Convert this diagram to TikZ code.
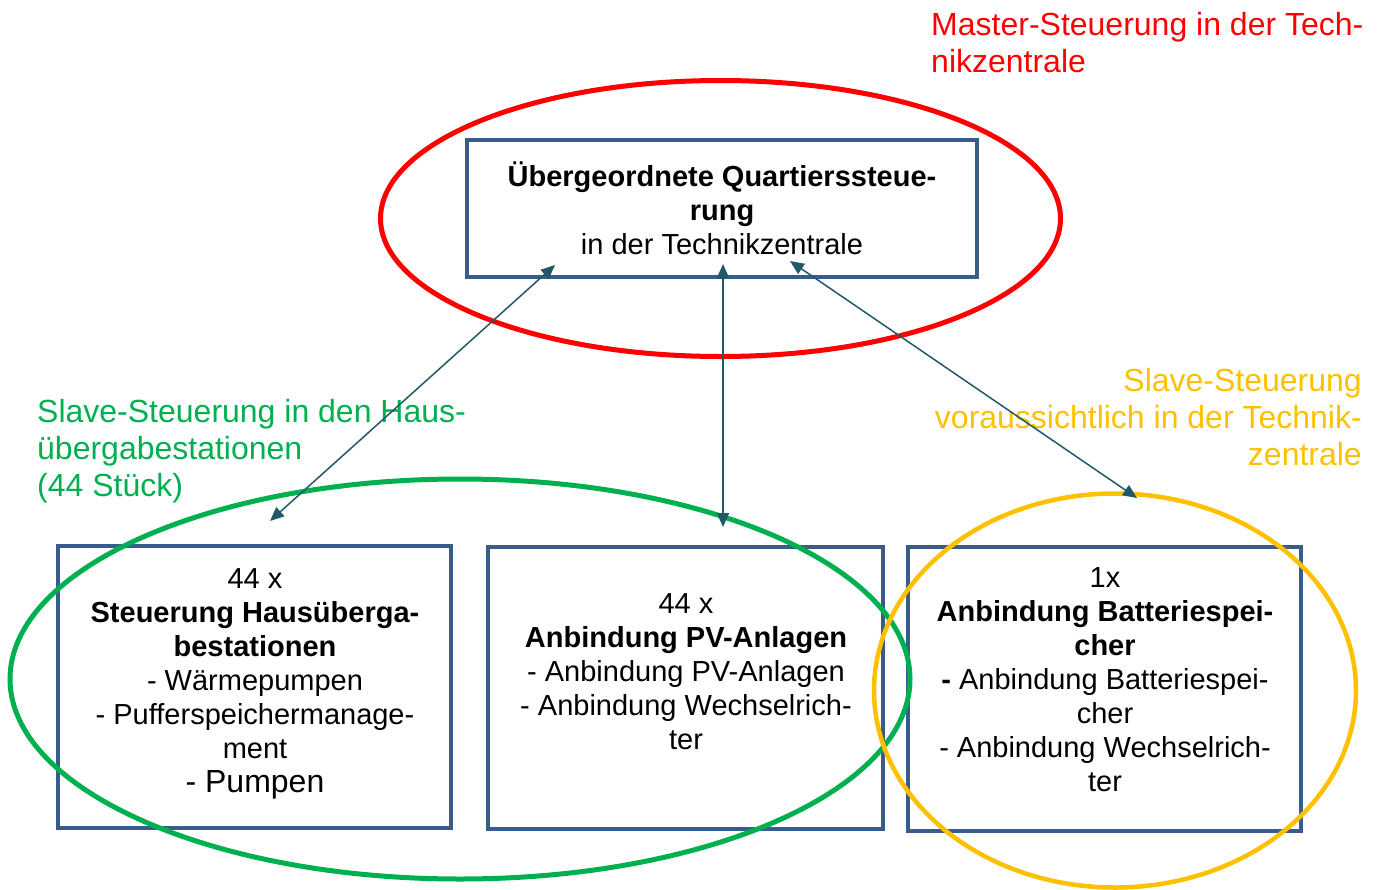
\documentclass[tikz,border=0pt]{standalone}
\usepackage{fontspec}
\setmainfont{Liberation Sans}
\usetikzlibrary{arrows.meta}
\definecolor{boxblue}{RGB}{56,93,138}
\definecolor{arrteal}{RGB}{33,89,104}
\definecolor{myred}{RGB}{255,0,0}
\definecolor{mygreen}{RGB}{0,176,80}
\definecolor{myyellow}{RGB}{255,192,0}
\tikzset{
  boxnode/.style={draw=boxblue, line width=4pt, rectangle, inner sep=0pt},
  boxtext/.style={inner sep=0pt, align=center, font=\fontsize{29}{34}\selectfont},
  labeltext/.style={inner sep=0pt, font=\fontsize{32}{37}\selectfont},
  link/.style={draw=arrteal, line width=1.5pt, {Triangle[length=14pt,width=12pt]}-{Triangle[length=14pt,width=12pt]}},
  ring/.style={line width=5pt}
}
\begin{document}
\begin{tikzpicture}[x=1pt,y=-1pt]
\useasboundingbox (0,0) rectangle (1379,889);
% boxes
\node[boxnode, minimum width=510pt, minimum height=137pt] (top) at (722,208.5) {};
\node[boxnode, minimum width=393pt, minimum height=282pt] (bl) at (254.5,687) {};
\node[boxnode, minimum width=395pt, minimum height=282pt] (bm) at (685.5,688) {};
\node[boxnode, minimum width=393pt, minimum height=284pt] (br) at (1104.5,689) {};
% ellipses
\draw[ring, myred] (720.5,218.5) ellipse [x radius=340pt, y radius=138pt];
\draw[ring, mygreen] (460,679) ellipse [x radius=450pt, y radius=200pt];
\draw[ring, myyellow, line width=4.5pt] (1115,690.5) ellipse [x radius=241pt, y radius=197pt];
% box texts
\node[boxtext] (toptext) at (722,208) {\textbf{Übergeordnete Quartierssteue-}\\\textbf{rung}\\in der Technikzentrale};
\node[boxtext] (bltext) at (255,683.5) {44 x\\\textbf{Steuerung Hausüberga-}\\\textbf{bestationen}\\- Wärmepumpen\\- Pufferspeichermanage-\\ment\\{\fontsize{32}{35}\selectfont - Pumpen}};
\node[boxtext] (bmtext) at (686,671.5) {44 x\\\textbf{Anbindung PV-Anlagen}\\- Anbindung PV-Anlagen\\- Anbindung Wechselrich-\\ter};
\node[boxtext] (brtext) at (1105,680) {1x\\\textbf{Anbindung Batteriespei-}\\\textbf{cher}\\\textbf{-} Anbindung Batteriespei-\\cher\\- Anbindung Wechselrich-\\ter};
% labels
\node[labeltext, text=myred, align=left, anchor=west] (lred) at (931,43) {Master-Steuerung in der Tech-\\nikzentrale};
\node[labeltext, text=mygreen, align=left, anchor=west] (lgreen) at (37,451.5) {Slave-Steuerung in den Haus-\\übergabestationen\\(44 Stück)};
\node[labeltext, text=myyellow, align=right, anchor=east] (lyellow) at (1362,417.5) {Slave-Steuerung\\voraussichtlich in der Technik-\\zentrale};
% connectors
\coordinate (a1) at (555,265);
\coordinate (b1) at (270,521);
\coordinate (a2) at (723,264);
\coordinate (b2) at (723,527);
\coordinate (a3) at (790,261);
\coordinate (b3) at (1137,498);
\draw[link] (a1) -- (b1);
\draw[link] (a2) -- (b2);
\draw[link] (a3) -- (b3);
\end{tikzpicture}
\end{document}
